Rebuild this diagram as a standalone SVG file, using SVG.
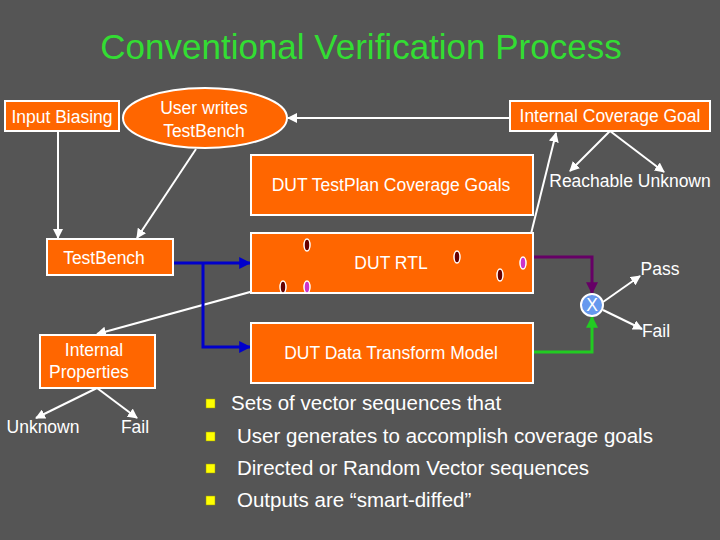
<svg xmlns="http://www.w3.org/2000/svg" width="720" height="540" viewBox="0 0 720 540">
<defs>
<marker id="aw" viewBox="0 0 10 10" refX="9" refY="5" markerWidth="5" markerHeight="5" orient="auto"><path d="M0,0L10,5L0,10z" fill="#fff"/></marker>
<marker id="ab" viewBox="0 0 10 10" refX="9" refY="5" markerWidth="4" markerHeight="4" orient="auto"><path d="M0,0L10,5L0,10z" fill="#0000cc"/></marker>
<marker id="ap" viewBox="0 0 10 10" refX="9" refY="5" markerWidth="4" markerHeight="4" orient="auto"><path d="M0,0L10,5L0,10z" fill="#660066"/></marker>
<marker id="ag" viewBox="0 0 10 10" refX="9" refY="5" markerWidth="4" markerHeight="4" orient="auto"><path d="M0,0L10,5L0,10z" fill="#22cc22"/></marker>
</defs>
<style>
.box{fill:#ff6600;stroke:#fff;stroke-width:2}
.t{font-family:"Liberation Sans",Arial,sans-serif;font-size:17.5px;fill:#fff;text-anchor:middle}
.tb{font-family:"Liberation Sans",Arial,sans-serif;font-size:20.5px;fill:#fff}
.w{stroke:#fff;stroke-width:2;fill:none;marker-end:url(#aw)}
.od{fill:#660000;stroke:#fff;stroke-width:1.5}
.om{fill:#cc33cc;stroke:#fff;stroke-width:1.5}
.sq{fill:#ffff00;stroke:#999900;stroke-width:0.5}
</style>
<rect width="720" height="540" fill="#555555"/>
<text x="361" y="59" text-anchor="middle" font-family="'Liberation Sans',Arial,sans-serif" font-size="35" fill="#33dd33">Conventional Verification Process</text>
<g id="connectors">
<line class="w" x1="58" y1="131" x2="58" y2="238"/>
<line class="w" x1="196" y1="149" x2="137" y2="238"/>
<line class="w" x1="510" y1="118" x2="288" y2="118"/>
<line class="w" x1="525" y1="258" x2="556" y2="133"/>
<line class="w" x1="610" y1="131" x2="570" y2="171"/>
<line class="w" x1="610" y1="131" x2="664" y2="172"/>
<line class="w" x1="283" y1="283" x2="97" y2="334"/>
<line class="w" x1="97" y1="388" x2="36" y2="418"/>
<line class="w" x1="97" y1="388" x2="137" y2="418"/>
<path d="M173,263H250" stroke="#0000cc" stroke-width="3" fill="none" marker-end="url(#ab)"/>
<path d="M203,263V347H250" stroke="#0000cc" stroke-width="3" fill="none" marker-end="url(#ab)"/>
<path d="M533,257H592V293" stroke="#660066" stroke-width="3" fill="none" marker-end="url(#ap)"/>
<path d="M533,352H592V317" stroke="#22cc22" stroke-width="3" fill="none" marker-end="url(#ag)"/>
<line class="w" x1="603" y1="302" x2="640" y2="276"/>
<line class="w" x1="603" y1="310" x2="642" y2="329"/>
</g>
<g id="input-biasing"><rect class="box" x="5" y="101" width="114" height="30"/><text class="t" x="62" y="123">Input Biasing</text></g>
<g id="user-writes"><ellipse class="box" cx="205" cy="118" rx="82" ry="30"/><text class="t" x="204" y="114">User writes</text><text class="t" x="204" y="137">TestBench</text></g>
<g id="internal-coverage-goal"><rect class="box" x="510" y="101" width="200" height="30"/><text class="t" x="610" y="122">Internal Coverage Goal</text></g>
<g id="reachable-unknown"><text class="t" x="630" y="187">Reachable Unknown</text></g>
<g id="testplan"><rect class="box" x="251" y="155" width="282" height="60"/><text class="t" x="391" y="191">DUT TestPlan Coverage Goals</text></g>
<g id="testbench"><rect class="box" x="47" y="239" width="126" height="36"/><text class="t" x="104" y="264">TestBench</text></g>
<g id="dut-rtl"><rect class="box" x="251" y="233" width="282" height="60"/><text class="t" x="391" y="269">DUT RTL</text>
<ellipse class="od" cx="307" cy="245" rx="3" ry="6"/><ellipse class="od" cx="457" cy="257" rx="3" ry="6"/><ellipse class="od" cx="500" cy="275" rx="3" ry="6"/><ellipse class="om" cx="523" cy="263" rx="3" ry="6"/><ellipse class="od" cx="283" cy="287" rx="3" ry="6"/><ellipse class="om" cx="307" cy="287" rx="3" ry="6"/></g>
<g id="dut-model"><rect class="box" x="251" y="323" width="282" height="60"/><text class="t" x="391" y="359">DUT Data Transform Model</text></g>
<g id="compare"><circle cx="592" cy="305" r="11" fill="#6699ee" stroke="#fff" stroke-width="2"/><text class="t" x="592" y="311">X</text></g>
<g id="pass"><text class="t" x="660" y="275">Pass</text></g>
<g id="fail"><text class="t" x="656" y="337">Fail</text></g>
<g id="internal-properties"><rect class="box" x="40" y="335" width="115" height="53"/><text class="t" x="94" y="356">Internal</text><text class="t" x="89" y="378">Properties</text></g>
<g id="unknown"><text class="t" x="43" y="433">Unknown</text></g>
<g id="fail2"><text class="t" x="135" y="433">Fail</text></g>
<g id="bullets">
<rect class="sq" x="206" y="399" width="9" height="9"/><text class="tb" x="231" y="410">Sets of vector sequences that</text>
<rect class="sq" x="206" y="432" width="9" height="9"/><text class="tb" x="237" y="443">User generates to accomplish coverage goals</text>
<rect class="sq" x="206" y="464" width="9" height="9"/><text class="tb" x="237" y="475">Directed or Random Vector sequences</text>
<rect class="sq" x="206" y="496" width="9" height="9"/><text class="tb" x="237" y="507">Outputs are “smart-diffed”</text>
</g>
</svg>
